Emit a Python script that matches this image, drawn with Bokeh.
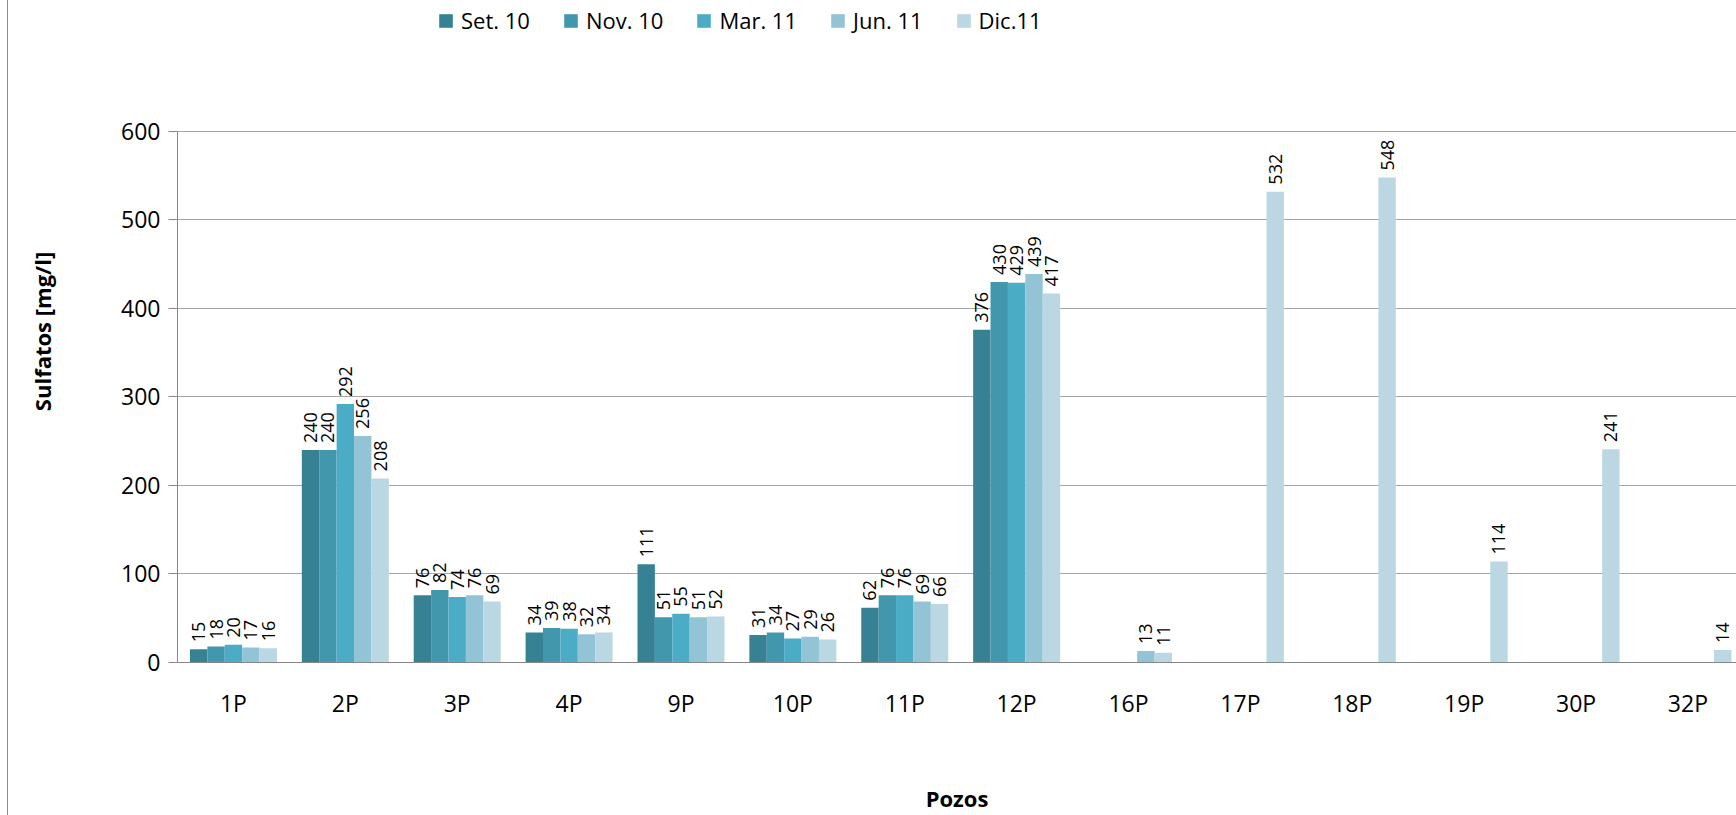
import math
from bokeh.plotting import figure
from bokeh.models import (ColumnDataSource, Range1d, FixedTicker, Legend, LegendItem,
                          InlineStyleSheet)
from bokeh.transform import dodge
from bokeh.core.properties import value
from bokeh.embed import file_html
from bokeh.resources import INLINE

categories = ["1P", "2P", "3P", "4P", "9P", "10P", "11P", "12P", "16P", "17P", "18P", "19P", "30P", "32P"]
series_names = ["Set. 10", "Nov. 10", "Mar. 11", "Jun. 11", "Dic.11"]
set10 = [15, 240, 76, 34, 111, 31, 62, 376, None, None, None, None, None, None]
nov10 = [18, 240, 82, 39, 51, 34, 76, 430, None, None, None, None, None, None]
mar11 = [20, 292, 74, 38, 55, 27, 76, 429, None, None, None, None, None, None]
jun11 = [17, 256, 76, 32, 51, 29, 69, 439, 13, None, None, None, None, None]
dic11 = [16, 208, 69, 34, 52, 26, 66, 417, 11, 532, 548, 114, 241, 14]
y_ticks = [0, 100, 200, 300, 400, 500, 600]

series_values = [set10, nov10, mar11, jun11, dic11]
colors = ["#368294", "#4297ad", "#4bacc6", "#93c4d5", "#bbd7e3"]

FONT = "Open Sans"
bw = 0.1555

p = figure(width=1728, height=815, output_backend="svg", toolbar_location=None,
           x_range=Range1d(0, 13.934), y_range=Range1d(0, 748.0),
           min_border_left=169, min_border_right=0, min_border_top=0, min_border_bottom=152)
p.stylesheets = [InlineStyleSheet(css=":host { margin-left: 8px; box-shadow: -1px 0 0 #8c8c8c; }")]
p.outline_line_color = None
p.background_fill_color = "white"
p.border_fill_color = "white"

renderers = []
for j, (name, vals, col) in enumerate(zip(series_names, series_values, colors)):
    off = (j - 2) * bw
    xs = [i + 0.5 for i, v in enumerate(vals) if v is not None]
    tops = [v for v in vals if v is not None]
    src = ColumnDataSource(dict(x=xs, top=tops, label=[str(v) for v in tops]))
    r = p.vbar(x=dodge("x", off, range=p.x_range), top="top", width=bw, source=src,
               fill_color=col, line_color=None)
    renderers.append((name, r))
    p.text(x=dodge("x", off, range=p.x_range), y="top", text="label", source=src,
           angle=math.pi / 2, text_align="left", text_baseline="middle", y_offset=-7,
           text_font=value(FONT), text_font_size="18px", text_color="black")

# axes
p.xaxis.ticker = FixedTicker(ticks=[i + 0.5 for i in range(len(categories))])
p.xaxis.major_label_overrides = {i + 0.5: c for i, c in enumerate(categories)}
p.xaxis.major_tick_out = 0
p.xaxis.major_tick_in = 0
p.xaxis.minor_tick_out = 0
p.xaxis.minor_tick_in = 0
p.xaxis.major_label_standoff = 24
p.xaxis.axis_label = "Pozos"
p.xaxis.axis_label_standoff = 61

p.yaxis.ticker = FixedTicker(ticks=y_ticks)
p.yaxis.bounds = (0, 600)
p.yaxis.major_tick_out = 9
p.yaxis.major_tick_in = 0
p.yaxis.minor_tick_out = 0
p.yaxis.minor_tick_in = 0
p.yaxis.major_label_standoff = 8
p.yaxis.axis_label = "Sulfatos [mg/l]"
p.yaxis.axis_label_standoff = 61

for ax in (p.xaxis[0], p.yaxis[0]):
    ax.axis_line_color = "#868686"
    ax.major_tick_line_color = "#868686"
    ax.major_label_text_font = FONT
    ax.major_label_text_font_size = "23px"
    ax.major_label_text_color = "black"
    ax.axis_label_text_font = FONT
    ax.axis_label_text_font_size = "22px"
    ax.axis_label_text_font_style = "bold"
    ax.axis_label_text_color = "black"

p.xgrid.grid_line_color = None
p.ygrid.grid_line_color = "#a6a6a6"
p.ygrid.ticker = FixedTicker(ticks=y_ticks)

legend = Legend(items=[LegendItem(label=n, renderers=[r]) for n, r in renderers],
                orientation="horizontal", location=(260, 627),
                glyph_width=17, glyph_height=17, label_standoff=7, spacing=32,
                padding=0, margin=0, border_line_color=None, background_fill_alpha=0,
                label_text_font=FONT, label_text_font_size="22px", label_text_color="black")
p.add_layout(legend)

open("out.html", "w").write(file_html(p, INLINE))
